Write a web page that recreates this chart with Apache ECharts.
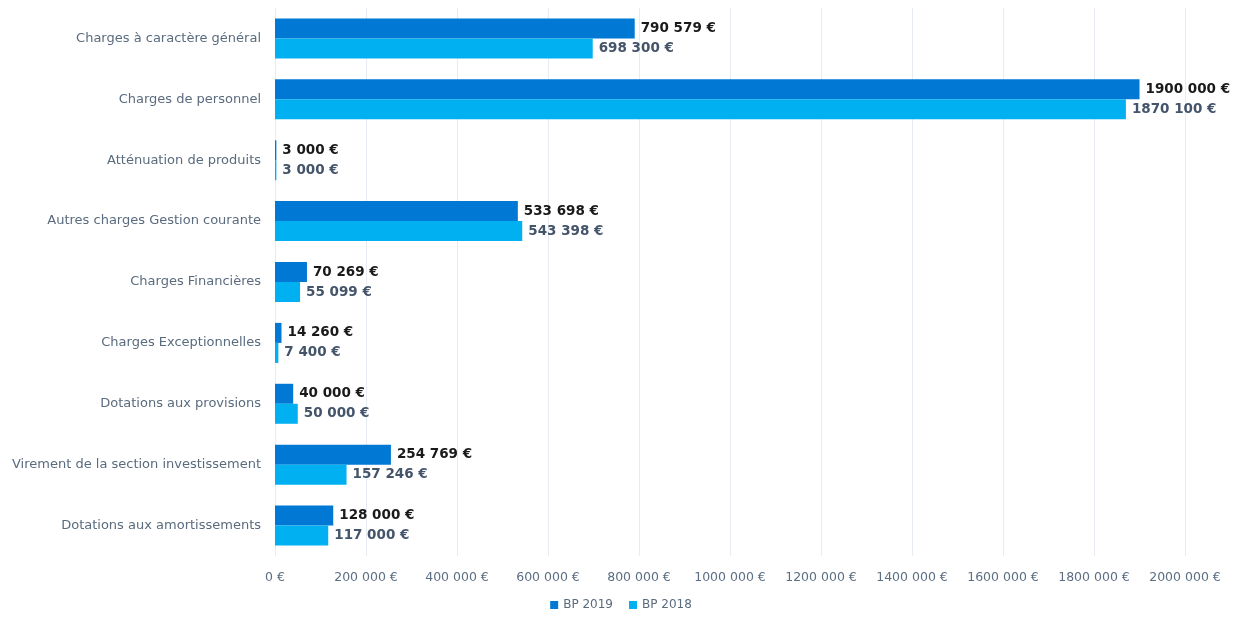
<!DOCTYPE html>
<html>
<head>
<meta charset="utf-8">
<script src="https://cdn.jsdelivr.net/npm/echarts@6/dist/echarts.min.js"></script>
<style>
  html, body { margin: 0; padding: 0; background: #fff; }
  #chart { width: 1242px; height: 618px; }
</style>
</head>
<body>
<div id="chart"></div>
<script>
// catégories (de haut en bas)
const categories = [
    'Charges à caractère général',
    'Charges de personnel',
    'Atténuation de produits',
    'Autres charges Gestion courante',
    'Charges Financières',
    'Charges Exceptionnelles',
    'Dotations aux provisions',
    'Virement de la section investissement',
    'Dotations aux amortissements'
];
const bp2019 = [790579, 1900000, 3000, 533698, 70269, 14260, 40000, 254769, 128000];
const bp2018 = [698300, 1870100, 3000, 543398, 55099, 7400, 50000, 157246, 117000];
const seriesNames = ['BP 2019', 'BP 2018'];

// format "# ##0 €" : un seul séparateur, comme dans l'original
function fmtEuro(v) {
    if (v < 1000) return v + ' €';
    const head = Math.floor(v / 1000);
    const tail = String(v % 1000).padStart(3, '0');
    return head + ' ' + tail + ' €';
}

const font = '"DejaVu Sans", "Open Sans", sans-serif';
const chart = echarts.init(document.getElementById('chart'));

chart.setOption({
    backgroundColor: '#FFFFFF',
    animation: false,
    textStyle: { fontFamily: font },
    grid: { left: 275, right: 57, top: 8, bottom: 62, containLabel: false },
    legend: {
        data: seriesNames,
        bottom: 2,
        left: 'center',
        itemWidth: 8,
        itemHeight: 8,
        itemGap: 16,
        icon: 'rect',
        textStyle: { color: '#5B6B7D', fontSize: 12, fontFamily: font }
    },
    xAxis: {
        type: 'value',
        min: 0,
        max: 2000000,
        interval: 200000,
        axisLine: { show: false },
        axisTick: { show: false },
        splitLine: { lineStyle: { color: '#E6ECF2', width: 1 } },
        axisLabel: {
            color: '#5B6E84',
            fontSize: 12.5,
            margin: 15,
            formatter: v => fmtEuro(v)
        }
    },
    yAxis: {
        type: 'category',
        data: categories,
        inverse: true,
        axisLine: { show: false },
        axisTick: { show: false },
        axisLabel: { color: '#5A6B7E', fontSize: 13, margin: 14 }
    },
    series: [
        {
            name: seriesNames[0],
            type: 'bar',
            data: bp2019,
            barWidth: 20,
            barGap: '0%',
            itemStyle: { color: '#0078D4' },
            label: {
                show: true,
                position: 'right',
                distance: 6,
                color: '#1A1A1A',
                fontWeight: 'bold',
                fontSize: 13.5,
                formatter: p => fmtEuro(p.value)
            }
        },
        {
            name: seriesNames[1],
            type: 'bar',
            data: bp2018,
            barWidth: 20,
            barGap: '0%',
            itemStyle: { color: '#00B0F0' },
            label: {
                show: true,
                position: 'right',
                distance: 6,
                color: '#44546A',
                fontWeight: 'bold',
                fontSize: 13.5,
                formatter: p => fmtEuro(p.value)
            }
        }
    ]
});
</script>
</body>
</html>
